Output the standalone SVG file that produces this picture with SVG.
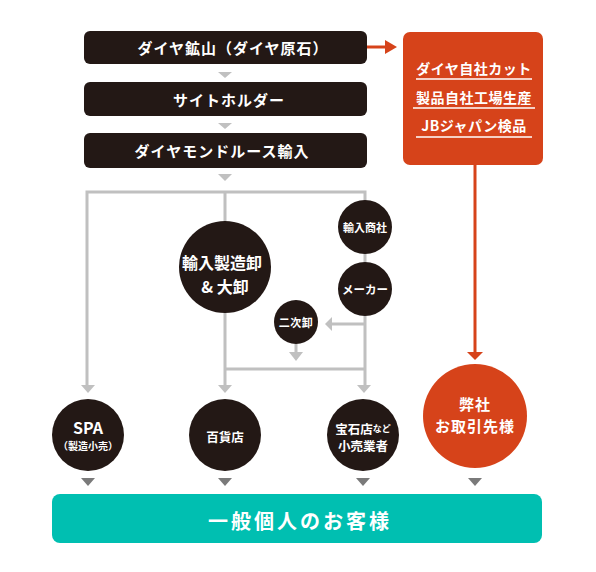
<svg xmlns="http://www.w3.org/2000/svg" width="596" height="572" viewBox="0 0 596 572">
<style>
text{font-family:"Noto Sans CJK JP","Noto Sans",sans-serif;font-weight:bold;fill:#fff;text-anchor:middle;dominant-baseline:central}
.dk{fill:#231815}
.or{fill:#d6431a}
.gl{stroke:#c0c0c0;stroke-width:3;fill:none}
.ga{fill:#c0c0c0}
.da{fill:#7a7a7a}
.ul{stroke:#fff;stroke-width:1.5}
.bx{font-size:15px;letter-spacing:1px}
.ob{font-size:14px;letter-spacing:0.5px}
</style>
<rect width="596" height="572" fill="#fff"/>
<g id="connectors">
  <polygon class="ga" points="218,72 232,72 225,78"/>
  <polygon class="ga" points="218,123 232,123 225,129"/>
  <polygon class="ga" points="218,174 232,174 225,181"/>
  <path class="gl" d="M87,386 V192 H365 V386 M225,192 V222 M225,312 V386 M365,324 H331 M296,344 V352 M225,369 H365"/>
  <polygon class="ga" points="81,385 95,385 88,393"/>
  <polygon class="ga" points="218,385 232,385 225,393"/>
  <polygon class="ga" points="357,385 371,385 364,393"/>
  <polygon class="ga" points="325,324 332,317 332,331"/>
  <polygon class="ga" points="289,352 303,352 296,361"/>
  <path d="M367,47 H386" stroke="#d6431a" stroke-width="3"/>
  <polygon class="or" points="385,40 397,47 385,54"/>
  <path d="M475,165 V354" stroke="#d6431a" stroke-width="3"/>
  <polygon class="or" points="467,352 483,352 475,360"/>
  <polygon class="da" points="81,478 95,478 88,486"/>
  <polygon class="da" points="218,478 232,478 225,486"/>
  <polygon class="da" points="356,478 370,478 363,486"/>
  <polygon class="da" points="468,478 482,478 475,486"/>
</g>
<g id="mine">
  <rect class="dk" x="84" y="31" width="283" height="33" rx="6"/>
  <text class="bx" x="233" y="47.5">ダイヤ鉱山（ダイヤ原石）</text>
</g>
<g id="sightholder">
  <rect class="dk" x="84" y="82" width="283" height="34" rx="6"/>
  <text class="bx" x="229" y="99">サイトホルダー</text>
</g>
<g id="import">
  <rect class="dk" x="84" y="133" width="283" height="35" rx="6"/>
  <text class="bx" x="222" y="150.5">ダイヤモンドルース輸入</text>
</g>
<g id="company-box">
  <rect class="or" x="403" y="32" width="140" height="133" rx="7"/>
  <text class="ob" x="474" y="68">ダイヤ自社カット</text>
  <line class="ul" x1="416" y1="79" x2="532" y2="79"/>
  <text class="ob" x="474" y="97">製品自社工場生産</text>
  <line class="ul" x1="413" y1="108" x2="535" y2="108"/>
  <text class="ob" x="474" y="125">JBジャパン検品</text>
  <line class="ul" x1="416" y1="137" x2="532" y2="137"/>
</g>
<g id="wholesale">
  <circle class="dk" cx="225" cy="267" r="46"/>
  <text x="222" y="262" font-size="16">輸入製造卸</text>
  <text x="225" y="286" font-size="16">&amp; 大卸</text>
</g>
<g id="trading">
  <circle class="dk" cx="365" cy="227" r="27"/>
  <text x="365" y="227" font-size="11">輸入商社</text>
</g>
<g id="maker">
  <circle class="dk" cx="365" cy="289" r="27"/>
  <text x="365" y="289" font-size="11.5">メーカー</text>
</g>
<g id="secondary">
  <circle class="dk" cx="296" cy="322" r="22"/>
  <text x="296" y="322" font-size="11" letter-spacing="0.5">二次卸</text>
</g>
<g id="spa">
  <circle class="dk" cx="88" cy="435" r="36"/>
  <text x="88" y="427" font-size="16">SPA</text>
  <text x="88" y="445" font-size="10">（製造小売）</text>
</g>
<g id="dept">
  <circle class="dk" cx="225" cy="435" r="36"/>
  <text x="225" y="436" font-size="12.5">百貨店</text>
</g>
<g id="jewelry">
  <circle class="dk" cx="363" cy="435" r="36"/>
  <text x="363" y="428" font-size="12.5">宝石店<tspan font-size="9">など</tspan></text>
  <text x="363" y="445" font-size="12.5">小売業者</text>
</g>
<g id="clients">
  <circle class="or" cx="475" cy="416" r="52"/>
  <text x="475" y="403" font-size="15" letter-spacing="1">弊社</text>
  <text x="475" y="425" font-size="15" letter-spacing="1">お取引先様</text>
</g>
<g id="customers">
  <rect x="52" y="494" width="490" height="49" rx="8" fill="#00bfb1"/>
  <text x="300" y="520" font-size="20" letter-spacing="3">一般個人のお客様</text>
</g>
</svg>
